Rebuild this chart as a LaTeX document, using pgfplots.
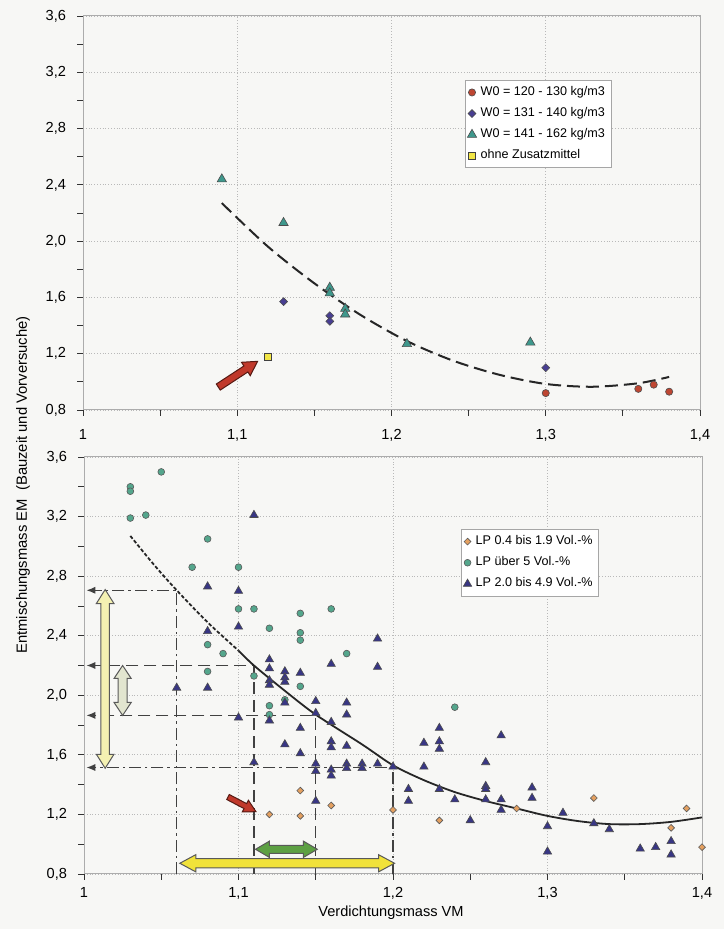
\documentclass[border=0pt]{standalone}
\usepackage{fontspec}
\setmainfont{Liberation Sans}
\usepackage{pgfplots}
\pgfplotsset{compat=1.18}
\usetikzlibrary{calc,arrows.meta}

\definecolor{bg}{RGB}{247,247,245}
\definecolor{redpt}{RGB}{190,70,50}
\definecolor{bluept}{RGB}{72,62,146}
\definecolor{tealpt}{RGB}{62,152,140}
\definecolor{yellowpt}{RGB}{242,230,70}
\definecolor{orangept}{RGB}{228,160,96}
\definecolor{circpt}{RGB}{84,166,140}
\definecolor{tript}{RGB}{56,54,132}
\definecolor{refline}{RGB}{65,65,65}
\definecolor{paleyel}{RGB}{244,241,178}
\definecolor{palegrey}{RGB}{226,229,207}
\definecolor{arrgreen}{RGB}{93,160,67}
\definecolor{arryel}{RGB}{241,226,58}
\definecolor{arrred}{RGB}{192,57,43}

% fat double arrows (vertical / horizontal), outlined
\newcommand{\vdarrow}[6]{%
  \filldraw[fill=#6, draw=black!65, line width=0.5pt] (#1) -- ($(#1)+(#4,-#5)$) -- ($(#1)+(#3,-#5)$)
    -- ($(#2)+(#3,#5)$) -- ($(#2)+(#4,#5)$) -- (#2) -- ($(#2)+(-#4,#5)$) -- ($(#2)+(-#3,#5)$)
    -- ($(#1)+(-#3,-#5)$) -- ($(#1)+(-#4,-#5)$) -- cycle;}
\newcommand{\hdarrow}[6]{%
  \filldraw[fill=#6, draw=black!65, line width=0.5pt] (#1) -- ($(#1)+(#5,#4)$) -- ($(#1)+(#5,#3)$)
    -- ($(#2)+(-#5,#3)$) -- ($(#2)+(-#5,#4)$) -- (#2) -- ($(#2)+(-#5,-#4)$) -- ($(#2)+(-#5,-#3)$)
    -- ($(#1)+(#5,-#3)$) -- ($(#1)+(#5,-#4)$) -- cycle;}
% red pointer arrow: tail, angle, length, shaft half, head half, head length
\newcommand{\redarrow}[6]{%
  \begin{scope}[shift={(#1)}, rotate=#2]
  \filldraw[fill=arrred, draw=black!55!arrred, line width=0.5pt] (0,-#4) -- ({#3-#6},-#4) -- ({#3-#6},-#5)
    -- (#3,0) -- ({#3-#6},#5) -- ({#3-#6},#4) -- (0,#4) -- cycle;
  \end{scope}}

\pgfplotsset{
  mylegend/.style={legend image code/.code={\draw[##1] plot[only marks] coordinates {(0.07cm,0cm)};}},
  refdash/.style={refline, line width=0.7pt, dash pattern=on 6pt off 3pt, -{Latex[length=4.5pt,width=3.6pt]}},
  refdashdot/.style={refline, line width=0.7pt, dash pattern=on 6pt off 2pt on 1.2pt off 2pt, -{Latex[length=4.5pt,width=3.6pt]}},
  panel/.style={
    scale only axis, width=308.5pt, anchor=south west,
    xmin=1, xmax=1.4, ymin=0.8, ymax=3.6,
    xtick={1,1.1,1.2,1.3,1.4},
    xticklabels={1,{1,1},{1,2},{1,3},{1,4}},
    minor xtick={1.05,1.15,1.25,1.35},
    ytick={0.8,1.2,1.6,2.0,2.4,2.8,3.2,3.6},
    yticklabels={{0,8},{1,2},{1,6},{2,0},{2,4},{2,8},{3,2},{3,6}},
    minor ytick={1.0,1.4,1.8,2.2,2.6,3.0,3.4},
    grid=major, grid style={gray!55, densely dotted, line width=0.4pt},
    axis line style={gray!65, line width=0.5pt},
    tick style={gray!40!black, line width=0.4pt},
    major tick length=3pt, minor tick length=3pt,
    tick align=outside, tick pos=left,
    tick label style={font=\fontsize{7.3}{8}\selectfont},
    yticklabel style={xshift=-2pt},
    legend cell align=left,
    legend style={draw=gray!70, fill=white, font=\fontsize{6.3}{7.5}\selectfont,
      inner sep=1pt, row sep=0.5pt, anchor=north west},
    clip=false,
  },
}

\begin{document}
\begin{tikzpicture}
\useasboundingbox (0,0) rectangle (362pt,464.5pt);
\fill[bg] (0,0) rectangle (362pt,464.5pt);

% ---------------- upper panel ----------------
\begin{axis}[panel, at={(41.5pt,259.5pt)}, height=197pt,
  xticklabel style={yshift=-3pt},
  legend style={at={(0.619,0.8376)}}]

\addplot[forget plot, smooth, black!85, line width=1pt, dash pattern=on 6.5pt off 3pt]
  coordinates {(1.09,2.27)(1.12,1.96)(1.15,1.70)(1.18,1.475)(1.21,1.29)(1.24,1.15)
               (1.27,1.05)(1.30,0.985)(1.33,0.965)(1.36,0.99)(1.38,1.035)};

\addplot[only marks, mark=*, mark size=1.8pt,
  mark options={draw=black!70, fill=redpt, line width=0.3pt}, mylegend]
  coordinates {(1.30,0.92)(1.36,0.95)(1.37,0.98)(1.38,0.93)};
\addlegendentry{W0 = 120 - 130 kg/m3}

\addplot[only marks, mark=square*, mark size=1.4pt,
  mark options={rotate=45, draw=black!70, fill=bluept, line width=0.3pt}, mylegend]
  coordinates {(1.13,1.57)(1.16,1.47)(1.16,1.43)(1.30,1.10)};
\addlegendentry{W0 = 131 - 140 kg/m3}

\addplot[only marks, mark=triangle*, mark size=2.7pt,
  mark options={draw=black!70, fill=tealpt, line width=0.3pt}, mylegend]
  coordinates {(1.09,2.44)(1.13,2.13)(1.16,1.67)(1.16,1.63)(1.17,1.52)(1.17,1.48)(1.21,1.27)(1.29,1.28)};
\addlegendentry{W0 = 141 - 162 kg/m3}

\addplot[only marks, mark=square*, mark size=1.8pt,
  mark options={draw=black!75, fill=yellowpt, line width=0.4pt}, mylegend]
  coordinates {(1.12,1.18)};
\addlegendentry{ohne Zusatzmittel}

\coordinate (rt) at (axis cs:1.0877,0.963);
\end{axis}

% ---------------- lower panel ----------------
\begin{axis}[panel, at={(42pt,27.5pt)}, width=309pt, height=208.5pt,
  legend style={at={(0.61,0.827)}}]

% reading lines
\addplot[forget plot, refdashdot] coordinates {(1.06,0.8)(1.06,2.705)(1.0015,2.705)};
\addplot[forget plot, refdash] coordinates {(1.11,0.8)(1.11,2.20)(1.0015,2.20)};
\addplot[forget plot, refdash] coordinates {(1.15,0.8)(1.15,1.865)(1.0015,1.865)};
\addplot[forget plot, refdashdot] coordinates {(1.20,0.8)(1.20,1.515)(1.0015,1.515)};

% trend line
\addplot[forget plot, smooth, black!85, line width=0.9pt, dash pattern=on 1.8pt off 1pt]
  coordinates {(1.03,3.07)(1.045,2.88)(1.06,2.705)(1.08,2.49)(1.10,2.30)};
\addplot[forget plot, smooth, black!85, line width=0.9pt]
  coordinates {(1.10,2.30)(1.11,2.20)(1.13,2.03)(1.15,1.87)(1.18,1.67)(1.20,1.53)(1.22,1.43)
               (1.24,1.35)(1.26,1.29)(1.28,1.24)(1.30,1.19)(1.32,1.155)(1.34,1.135)
               (1.36,1.135)(1.38,1.15)(1.40,1.18)};

\addplot[only marks, mark=square*, mark size=1.2pt,
  mark options={rotate=45, draw=black!65, fill=orangept, line width=0.3pt}, mylegend]
  coordinates {(1.12,1.20)(1.14,1.36)(1.14,1.19)(1.16,1.26)(1.20,1.23)(1.23,1.16)
               (1.28,1.24)(1.33,1.31)(1.38,1.11)(1.39,1.24)(1.40,0.98)};
\addlegendentry{LP 0.4 bis 1.9 Vol.-\%}

\addplot[only marks, mark=*, mark size=1.7pt,
  mark options={draw=black!65, fill=circpt, line width=0.3pt}, mylegend]
  coordinates {(1.03,3.40)(1.03,3.37)(1.03,3.19)(1.04,3.21)(1.05,3.50)(1.07,2.86)(1.08,3.05)
               (1.08,2.34)(1.08,2.16)(1.09,2.28)(1.10,2.86)(1.10,2.58)(1.11,2.58)(1.11,2.13)
               (1.12,2.45)(1.12,1.93)(1.12,1.87)(1.13,1.97)(1.14,2.55)(1.14,2.42)(1.14,2.37)
               (1.14,2.06)(1.16,2.58)(1.17,2.28)(1.24,1.92)};
\addlegendentry{LP über 5 Vol.-\%}

\addplot[only marks, mark=triangle*, mark size=2.4pt,
  mark options={draw=black!70, fill=tript, line width=0.3pt}, mylegend]
  coordinates {(1.06,2.05)(1.08,2.73)(1.08,2.43)(1.08,2.05)(1.10,2.70)(1.10,2.46)(1.10,1.85)
               (1.11,3.21)(1.11,1.55)
               (1.12,2.24)(1.12,2.18)(1.12,2.10)(1.12,2.07)(1.12,1.83)
               (1.13,2.16)(1.13,2.12)(1.13,2.09)(1.13,1.95)(1.13,1.67)
               (1.14,2.15)(1.14,1.78)(1.14,1.61)
               (1.15,1.96)(1.15,1.88)(1.15,1.54)(1.15,1.49)(1.15,1.29)
               (1.16,2.21)(1.16,1.82)(1.16,1.69)(1.16,1.65)(1.16,1.50)(1.16,1.46)
               (1.17,1.95)(1.17,1.87)(1.17,1.66)(1.17,1.54)(1.17,1.51)
               (1.18,1.54)(1.18,1.51)
               (1.19,2.38)(1.19,2.19)(1.19,1.54)
               (1.20,1.52)
               (1.21,1.37)(1.21,1.29)
               (1.22,1.68)(1.22,1.52)
               (1.23,1.78)(1.23,1.69)(1.23,1.64)(1.23,1.37)
               (1.24,1.30)(1.25,1.16)
               (1.26,1.55)(1.26,1.39)(1.26,1.37)(1.26,1.30)
               (1.27,1.73)(1.27,1.30)(1.27,1.23)
               (1.29,1.38)(1.29,1.31)
               (1.30,1.12)(1.30,0.95)
               (1.31,1.21)(1.33,1.14)(1.34,1.10)
               (1.36,0.97)(1.37,0.98)(1.38,1.02)(1.38,0.93)};
\addlegendentry{LP 2.0 bis 4.9 Vol.-\%}

\coordinate (ya1) at (axis cs:1.0137,2.71);
\coordinate (ya2) at (axis cs:1.0137,1.51);
\coordinate (yb1) at (axis cs:1.025,2.20);
\coordinate (yb2) at (axis cs:1.025,1.865);
\coordinate (ga) at (axis cs:1.111,0.966);
\coordinate (gb) at (axis cs:1.151,0.966);
\coordinate (ha) at (axis cs:1.062,0.872);
\coordinate (hb) at (axis cs:1.201,0.872);
\coordinate (rb) at (axis cs:1.0932,1.317);
\end{axis}

% annotation arrows
\vdarrow{ya1}{ya2}{2.1pt}{4.4pt}{7pt}{paleyel}
\vdarrow{yb1}{yb2}{2.2pt}{4.3pt}{6.5pt}{palegrey}
\hdarrow{ga}{gb}{2pt}{4.1pt}{7pt}{arrgreen}
\hdarrow{ha}{hb}{2.3pt}{4.3pt}{8pt}{arryel}
\redarrow{rb}{-27.7}{15.8pt}{1.4pt}{3.3pt}{6pt}
\redarrow{rt}{33.2}{23.5pt}{1.8pt}{4pt}{7pt}

% shared axis titles
\node[rotate=90, font=\fontsize{7.4}{8}\selectfont] at (11.5pt,222pt)
  {Entmischungsmass EM\ \ (Bauzeit und Vorversuche)};
\node[font=\fontsize{7.3}{8}\selectfont] at (195.5pt,8pt) {Verdichtungsmass VM};
\end{tikzpicture}
\end{document}
